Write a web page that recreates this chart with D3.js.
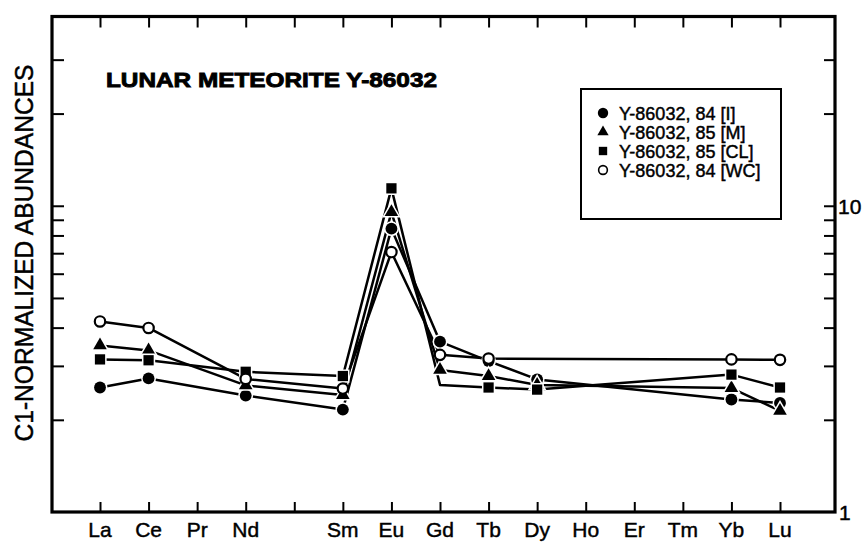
<!DOCTYPE html>
<html>
<head>
<meta charset="utf-8">
<script src="https://cdn.jsdelivr.net/npm/d3@7"></script>
<style>
  body { margin: 0; background: #fff; }
  text { font-family: "Liberation Sans", Arial, Helvetica, sans-serif; fill: #000; stroke: #000; stroke-width: 0.45px; }
</style>
</head>
<body>
<div id="chart"></div>
<script>
var width = 866;
var height = 545;

// REE order, Pm kept as an empty slot on the axis
var elements = ["La", "Ce", "Pr", "Nd", "Pm", "Sm", "Eu", "Gd", "Tb", "Dy", "Ho", "Er", "Tm", "Yb", "Lu"];
var tickLabels = ["La", "Ce", "Pr", "Nd", "", "Sm", "Eu", "Gd", "Tb", "Dy", "Ho", "Er", "Tm", "Yb", "Lu"];

var seriesI  = [2.55, 2.73, null, 2.40, null, 2.16, 8.42, 3.60, 3.11, 2.71, null, null, null, 2.33, 2.27];
var seriesM  = [3.50, 3.37, null, 2.59, null, 2.41, 9.53, 2.91, 2.78, 2.60, null, null, null, 2.54, 2.14];
var seriesCL = [3.15, 3.13, null, 2.87, null, 2.78, 11.4, 2.60, 2.55, 2.51, null, null, null, 2.81, 2.55];
var seriesWC = [4.19, 3.99, null, 2.72, null, 2.53, 7.06, 3.26, 3.17, null, null, null, null, 3.15, 3.14];

var seriesNames = ["Y-86032, 84 [I]", "Y-86032, 85 [M]", "Y-86032, 85  [CL]", "Y-86032, 84 [WC]"];
// the CL Gd point has a vertex but no symbol in the original
var clHidden = ["Gd"];

var yTicks = [2, 3, 4, 5, 6, 7, 8, 9, 10, 20, 30];
var yDomain = [1, 41.5];

var frame = {left: 52, right: 835, top: 16.5, bottom: 512};

var svg = d3.select("#chart")
    .append("svg")
    .attr("width", width)
    .attr("height", height);

var x = d3.scalePoint()
    .domain(elements)
    .range([100, 780]);

var y = d3.scaleLog()
    .domain(yDomain)
    .range([frame.bottom, frame.top]);

// frame
svg.append("rect")
    .attr("x", frame.left)
    .attr("y", frame.top)
    .attr("width", frame.right - frame.left)
    .attr("height", frame.bottom - frame.top)
    .attr("fill", "none")
    .attr("stroke", "#000")
    .attr("stroke-width", 3.2);

// inward ticks on all four sides
function tickStyle(g) {
    g.select(".domain").remove();
    g.selectAll(".tick line").attr("stroke", "#000").attr("stroke-width", 2);
    g.selectAll(".tick text").remove();
}

svg.append("g")
    .attr("transform", "translate(0," + frame.bottom + ")")
    .call(d3.axisTop(x).tickSize(10))
    .call(tickStyle);

svg.append("g")
    .attr("transform", "translate(0," + frame.top + ")")
    .call(d3.axisBottom(x).tickSize(11))
    .call(tickStyle);

svg.append("g")
    .attr("transform", "translate(" + frame.left + ",0)")
    .call(d3.axisRight(y).tickValues(yTicks).tickSize(12))
    .call(tickStyle);

svg.append("g")
    .attr("transform", "translate(" + frame.right + ",0)")
    .call(d3.axisLeft(y).tickValues(yTicks).tickSize(11))
    .call(tickStyle);

// x labels
svg.append("g")
    .selectAll("text")
    .data(elements)
    .enter().append("text")
    .attr("x", d => x(d))
    .attr("y", 537)
    .attr("text-anchor", "middle")
    .style("font-size", "21px")
    .text((d, i) => tickLabels[i]);

// right-side decade labels
svg.append("text")
    .attr("x", 838)
    .attr("y", y(10) + 8)
    .style("font-size", "21px")
    .text("10");
svg.append("text")
    .attr("x", 839)
    .attr("y", y(1) + 8)
    .style("font-size", "21px")
    .text("1");

// y axis title
svg.append("text")
    .attr("transform", "translate(33,253) rotate(-90)")
    .attr("text-anchor", "middle")
    .attr("textLength", 377)
    .attr("lengthAdjust", "spacingAndGlyphs")
    .style("font-size", "25px")
    .text("C1-NORMALIZED ABUNDANCES");

// chart title
svg.append("text")
    .attr("x", 106)
    .attr("y", 87)
    .attr("textLength", 331)
    .attr("lengthAdjust", "spacingAndGlyphs")
    .style("font-size", "21px")
    .style("font-weight", "bold")
    .style("stroke-width", "0.9px")
    .text("LUNAR METEORITE Y-86032");

var series = [
    {name: seriesNames[0], values: seriesI, shape: d3.symbolCircle, size: 110, open: false},
    {name: seriesNames[1], values: seriesM, shape: d3.symbolTriangle, size: 80, open: false},
    {name: seriesNames[2], values: seriesCL, shape: d3.symbolSquare, size: 105, open: false, hidden: clHidden},
    {name: seriesNames[3], values: seriesWC, shape: d3.symbolCircle, size: 85, open: true}
];

var line = d3.line()
    .x(d => x(d.el))
    .y(d => y(d.v));

series.forEach(function (s) {
    s.points = elements.map((el, i) => ({el: el, v: s.values[i]}))
        .filter(d => d.v != null);
});

// lines first
svg.append("g")
    .selectAll("path")
    .data(series)
    .enter().append("path")
    .attr("d", d => line(d.points))
    .attr("fill", "none")
    .attr("stroke", "#000")
    .attr("stroke-width", 2.5)
    .attr("stroke-linejoin", "round");

// symbols, with a thin white halo so lines stop short of them
series.forEach(function (s) {
    var pts = s.points.filter(d => !(s.hidden && s.hidden.indexOf(d.el) >= 0));
    var sym = d3.symbol().type(s.shape).size(s.size);
    var g = svg.append("g");
    if (!s.open) {
        g.selectAll("path.halo")
            .data(pts)
            .enter().append("path")
            .attr("transform", d => "translate(" + x(d.el) + "," + y(d.v) + ")")
            .attr("d", sym)
            .attr("fill", "#fff")
            .attr("stroke", "#fff")
            .attr("stroke-width", 3);
        g.selectAll("path.mark")
            .data(pts)
            .enter().append("path")
            .attr("transform", d => "translate(" + x(d.el) + "," + y(d.v) + ")")
            .attr("d", sym)
            .attr("fill", "#000");
    } else {
        g.selectAll("path")
            .data(pts)
            .enter().append("path")
            .attr("transform", d => "translate(" + x(d.el) + "," + y(d.v) + ")")
            .attr("d", sym)
            .attr("fill", "#fff")
            .attr("stroke", "#000")
            .attr("stroke-width", 2.2);
    }
});

// legend
var legend = svg.append("g").attr("transform", "translate(581,89)");
legend.append("rect")
    .attr("width", 200)
    .attr("height", 130)
    .attr("fill", "#fff")
    .attr("stroke", "#000")
    .attr("stroke-width", 2);

var legendSizes = [85, 55, 70, 60];
var rows = legend.selectAll("g.row")
    .data(series)
    .enter().append("g")
    .attr("transform", (d, i) => "translate(0," + (24 + i * 19) + ")");

rows.append("path")
    .attr("transform", "translate(22,0)")
    .attr("d", (d, i) => d3.symbol().type(d.shape).size(legendSizes[i])())
    .attr("fill", d => d.open ? "#fff" : "#000")
    .attr("stroke", d => d.open ? "#000" : "none")
    .attr("stroke-width", 1.6);

rows.append("text")
    .attr("x", 38)
    .attr("y", 7)
    .style("font-size", "18px")
    .text(d => d.name);
</script>
</body>
</html>
